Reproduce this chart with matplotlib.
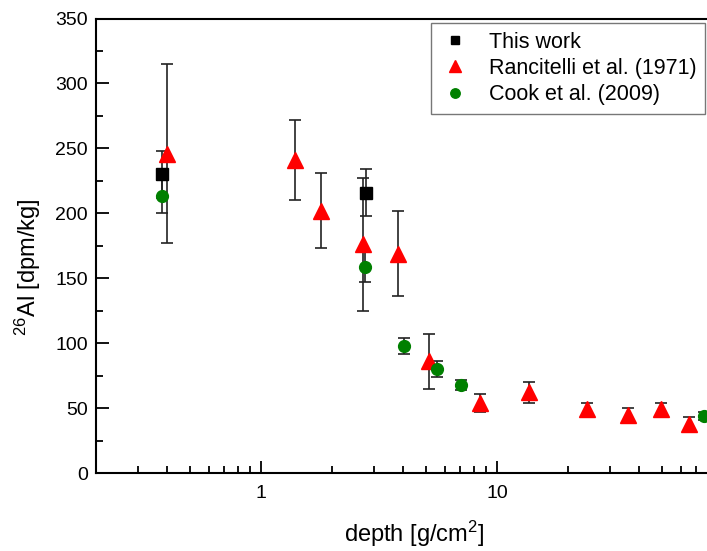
import matplotlib
matplotlib.use("Agg")
import matplotlib.pyplot as plt
from matplotlib.ticker import LogLocator, MultipleLocator, NullFormatter

plt.rcParams['font.family'] = ['Liberation Sans', 'DejaVu Sans']
plt.rcParams['mathtext.fontset'] = 'custom'
plt.rcParams['mathtext.rm'] = 'Liberation Sans'
plt.rcParams['mathtext.it'] = 'Liberation Sans:italic'

# This work
work_depth = [0.38, 2.78]
work_al = [230, 216]
work_err = [18, 18]

# Rancitelli et al. (1971)
ranc_depth = [0.40, 1.39, 1.79, 2.70, 3.80, 5.15, 8.5, 13.6, 24.0, 35.9, 49.7, 65.1]
ranc_al = [246, 241, 202, 176, 169, 86, 54, 62, 49, 45, 49, 38]
ranc_err = [69, 31, 29, 51, 33, 21, 7, 8, 5, 5, 5, 5]

# Cook et al. (2009)
cook_depth = [0.38, 2.77, 4.02, 5.55, 7.02, 75.4]
cook_al = [213, 159, 98, 80, 68, 44]
cook_err = [13, 12, 6, 6, 4, 3]

fig = plt.figure(figsize=(7.07, 5.51), dpi=100)
# axes run past the right edge of the picture (cropped like the original)
ax = fig.add_axes([96 / 707, 78 / 551, 637 / 707, 454.5 / 551])

err_kw = dict(fmt='none', ecolor='#222222', elinewidth=1.2, capsize=4.5, capthick=1.2, zorder=2)
ax.errorbar(work_depth, work_al, yerr=work_err, **err_kw)
ax.errorbar(ranc_depth, ranc_al, yerr=ranc_err, **err_kw)
ax.errorbar(cook_depth, cook_al, yerr=cook_err, **err_kw)

ax.plot(work_depth, work_al, 's', color='black', markersize=8, linestyle='none', zorder=3, label='This work')
ax.plot(ranc_depth, ranc_al, '^', color='red', markersize=11, linestyle='none', zorder=3, label='Rancitelli et al. (1971)')
ax.plot(cook_depth, cook_al, 'o', color='green', markersize=8.5, linestyle='none', zorder=3, label='Cook et al. (2009)')

ax.set_xscale('log')
ax.set_xlim(0.2, 100)
ax.set_ylim(0, 350)
ax.yaxis.set_major_locator(MultipleLocator(50))
ax.yaxis.set_minor_locator(MultipleLocator(25))
ax.xaxis.set_minor_locator(LogLocator(base=10, subs=range(2, 10)))
ax.xaxis.set_minor_formatter(NullFormatter())
ax.set_xticks([1, 10])
ax.set_xticklabels(['1', '10'])

ax.tick_params(which='major', direction='in', length=9, width=1.3, labelsize=14, pad=6)
ax.tick_params(which='minor', direction='in', length=5, width=1.3)
ax.tick_params(axis='x', which='major', pad=9)
for side in ['left', 'bottom', 'top', 'right']:
    ax.spines[side].set_linewidth(1.5)

ax.set_xlabel('depth [g/cm$^2$]', fontsize=17, labelpad=12)
ax.set_ylabel('$^{26}$Al [dpm/kg]', fontsize=17)
ax.yaxis.set_label_coords(-0.083, 0.454)

leg = ax.legend(loc='upper left', bbox_to_anchor=((431 - 96) / 637, 1 - 4.5 / 454.5),
                fontsize=15.5, frameon=True, fancybox=False, edgecolor='#555555',
                handlelength=1.4, handletextpad=0.9, borderpad=0.4, labelspacing=0.25,
                markerscale=0.8, borderaxespad=0)
leg.get_frame().set_linewidth(1.0)

fig.savefig('out.png', dpi=100)
